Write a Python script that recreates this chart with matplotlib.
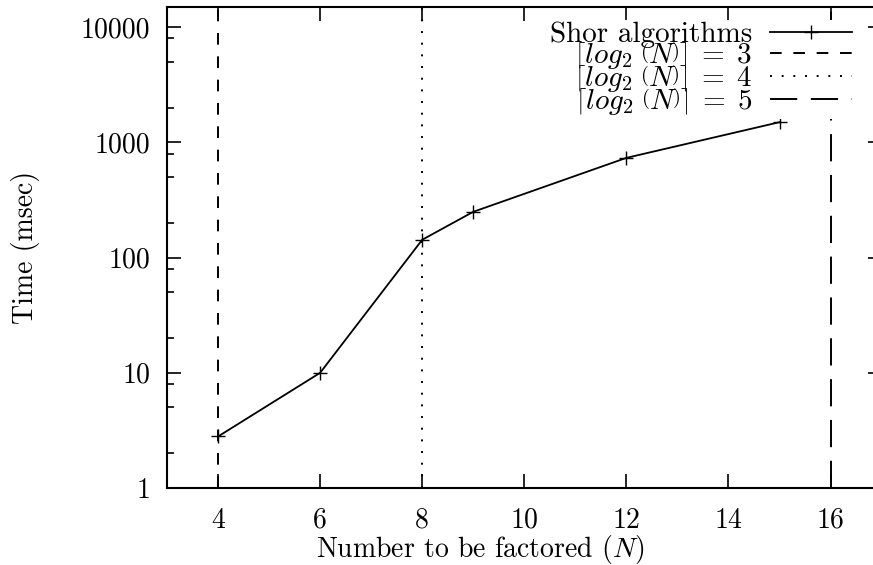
import matplotlib
matplotlib.use("Agg")
import matplotlib.pyplot as plt
from matplotlib.ticker import FixedLocator, FixedFormatter, NullFormatter

plt.rcParams['font.family'] = 'serif'
plt.rcParams['font.serif'] = ['cmr10']
plt.rcParams['mathtext.fontset'] = 'cm'
plt.rcParams['axes.formatter.use_mathtext'] = True

# Data
N = [4, 6, 8, 9, 12, 15]
time_ms = [2.8, 10, 143, 250, 735, 1500]
vline_x = [4, 8, 16]
vline_labels = [r'$\left\lceil log_2\;\left(N\right)\right\rceil\;=\;3$',
                r'$\left\lceil log_2\;\left(N\right)\right\rceil\;=\;4$',
                r'$\left\lceil log_2\;\left(N\right)\right\rceil\;=\;5$']
vline_styles = [(0, (6, 6)), (0, (1, 5)), (0, (14, 7))]
xticks = [4, 6, 8, 10, 12, 14, 16]
yticks = [1, 10, 100, 1000, 10000]
ytick_labels = ['1', '10', '100', '1000', '10000']
yminor = [2, 5, 8, 20, 50, 80, 200, 500, 800, 2000, 5000, 8000]

W, H = 873, 565
fig = plt.figure(figsize=(W / 100, H / 100), dpi=100)
left, right, bottom, top = 167, 881.6, 488, 7
ax = fig.add_axes([left / W, (H - bottom) / H, (right - left) / W, (bottom - top) / H])

ax.plot(N, time_ms, color='black', lw=1.3, marker='+', markersize=10,
        markeredgewidth=1.0, label='Shor algorithms')
for x, lab, ls in zip(vline_x, vline_labels, vline_styles):
    ax.axvline(x, color='black', lw=1.4, linestyle=ls, label=lab)

ax.set_yscale('log')
ax.set_xlim(3, 17)
ax.set_ylim(1, 15000)
ax.xaxis.set_major_locator(FixedLocator(xticks))
ax.set_xticklabels([str(t) for t in xticks])
ax.yaxis.set_major_locator(FixedLocator(yticks))
ax.yaxis.set_major_formatter(FixedFormatter(ytick_labels))
ax.yaxis.set_minor_locator(FixedLocator(yminor))
ax.yaxis.set_minor_formatter(NullFormatter())
ax.xaxis.set_minor_locator(FixedLocator([]))

ax.tick_params(which='both', direction='in', top=True, right=True,
               labelsize=20, width=1.2)
ax.tick_params(which='major', length=10, pad=14)
ax.tick_params(axis='y', which='major', pad=12)
ax.tick_params(which='minor', length=5)
for s in ax.spines.values():
    s.set_linewidth(1.5)

ax.set_ylabel('Time (msec)', fontsize=20)
ax.set_xlabel(r'Number to be factored ($N$)', fontsize=20)
ax.yaxis.set_label_coords(-0.178, 0.5)
ax.xaxis.set_label_coords(0.438, -0.093)

leg = ax.legend(loc='upper right', bbox_to_anchor=(853 / W, (H - 20) / H),
                bbox_transform=fig.transFigure, markerfirst=False, fontsize=21,
                frameon=True, fancybox=False, framealpha=1, edgecolor='none',
                facecolor='white', handlelength=2.8, handletextpad=0.6,
                labelspacing=-0.27, borderpad=0.05, borderaxespad=0,
                numpoints=1)

fig.savefig('out.png', dpi=100)
